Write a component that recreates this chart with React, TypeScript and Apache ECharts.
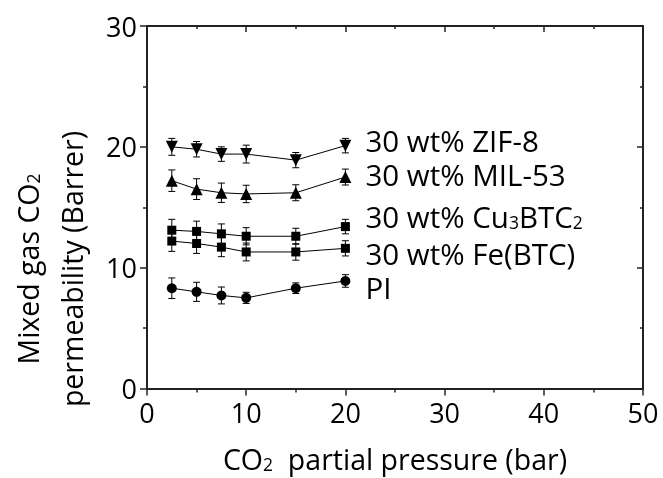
import React, { useEffect, useRef } from 'react';
import * as echarts from 'echarts';

const pressures = [2.5, 5, 7.5, 10, 15, 20];
const zif8 = [20.0, 19.8, 19.4, 19.4, 18.9, 20.1];
const zif8Err = [0.7, 0.64, 0.6, 0.74, 0.63, 0.6];
const mil53 = [17.2, 16.5, 16.2, 16.1, 16.2, 17.5];
const mil53Err = [0.89, 0.86, 0.8, 0.72, 0.66, 0.66];
const cuBtc = [13.1, 13.0, 12.8, 12.6, 12.6, 13.4];
const cuBtcErr = [0.9, 0.85, 0.82, 0.71, 0.66, 0.6];
const feBtc = [12.2, 12.0, 11.7, 11.3, 11.3, 11.6];
const feBtcErr = [0.85, 0.82, 0.79, 0.74, 0.68, 0.63];
const pi = [8.3, 8.0, 7.7, 7.5, 8.3, 8.9];
const piErr = [0.85, 0.79, 0.7, 0.46, 0.44, 0.52];

const labels = [
  '30 wt% ZIF-8',
  '30 wt% MIL-53',
  '30 wt% Cu{sub|3}BTC{sub|2}',
  '30 wt% Fe(BTC)',
  'PI',
];

const FONT = '"Open Sans", sans-serif';
const FS_TICK = 27;
const FS_TITLE = 28.5;
const FS_LABEL = 29.5;

export default function App() {
  const ref = useRef<HTMLDivElement>(null);
  useEffect(() => {
    if (!ref.current) return;
    const chart = echarts.init(ref.current, null, { renderer: 'svg' });

    const groups = [
      { name: labels[0], y: zif8, e: zif8Err, symbol: 'triangle', size: 12, rot: 180, dy: -5 },
      { name: labels[1], y: mil53, e: mil53Err, symbol: 'triangle', size: 12, rot: 0, dy: -3 },
      { name: labels[2], y: cuBtc, e: cuBtcErr, symbol: 'rect', size: 9, rot: 0, dy: -10 },
      { name: labels[3], y: feBtc, e: feBtcErr, symbol: 'rect', size: 9, rot: 0, dy: 5 },
      { name: labels[4], y: pi, e: piErr, symbol: 'circle', size: 10, rot: 0, dy: 7 },
    ];

    const subStyle = { fontFamily: FONT, fontSize: 17.5, lineHeight: 17, verticalAlign: 'bottom', color: '#000' };

    const series: any[] = [];
    groups.forEach((g, gi) => {
      series.push({
        type: 'custom',
        name: 'err' + gi,
        xAxisIndex: 0,
        yAxisIndex: 0,
        silent: true,
        z: 2,
        data: pressures.map((p, i) => [p, g.y[i], g.e[i]]),
        renderItem: (params: any, api: any) => {
          const x = api.value(0);
          const y = api.value(1);
          const e = api.value(2);
          const top = api.coord([x, y + e]);
          const bot = api.coord([x, y - e]);
          const w = 3.5;
          const st = { stroke: '#000', lineWidth: 1 };
          return {
            type: 'group',
            children: [
              { type: 'line', shape: { x1: top[0], y1: top[1], x2: bot[0], y2: bot[1] }, style: st },
              { type: 'line', shape: { x1: top[0] - w, y1: top[1], x2: top[0] + w, y2: top[1] }, style: st },
              { type: 'line', shape: { x1: bot[0] - w, y1: bot[1], x2: bot[0] + w, y2: bot[1] }, style: st },
            ],
          };
        },
      });
      series.push({
        type: 'line',
        name: g.name,
        xAxisIndex: 0,
        yAxisIndex: 0,
        z: 3,
        data: pressures.map((p, i) => [p, g.y[i]]),
        symbol: g.symbol,
        symbolSize: g.size,
        symbolRotate: g.rot,
        showAllSymbol: true,
        lineStyle: { color: '#000', width: 1 },
        itemStyle: { color: '#000' },
        endLabel: {
          show: true,
          formatter: g.name,
          distance: 20,
          offset: [0, g.dy],
          color: '#000',
          fontFamily: FONT,
          fontSize: FS_LABEL,
          lineHeight: 28,
          rich: { sub: subStyle },
        },
      });
    });

    const axisLine = { show: true, onZero: false, lineStyle: { color: '#222', width: 2 } };

    chart.setOption({
      animation: false,
      grid: { left: 147, right: 20, top: 26, bottom: 87, containLabel: false },
      xAxis: [
        {
          type: 'value',
          position: 'bottom',
          min: 0,
          max: 50,
          interval: 10,
          axisLine,
          axisTick: { show: true, inside: false, length: 7, lineStyle: { color: '#222', width: 1.5 } },
          minorTick: { show: true, splitNumber: 2, length: 4, lineStyle: { color: '#222', width: 1.5 } },
          splitLine: { show: false },
          axisLabel: { color: '#000', fontFamily: FONT, fontSize: FS_TICK, margin: 10 },
          name: 'CO{sub|2}  partial pressure (bar)',
          nameLocation: 'middle',
          nameGap: 56,
          nameTextStyle: {
            color: '#000',
            fontFamily: FONT,
            fontSize: FS_TITLE,
            lineHeight: 28,
            rich: { sub: subStyle },
          },
        },
        {
          type: 'value',
          position: 'top',
          min: 0,
          max: 50,
          interval: 10,
          axisLine,
          axisTick: { show: true, inside: true, length: 6, lineStyle: { color: '#222', width: 1.5 } },
          minorTick: { show: true, splitNumber: 2, length: 3, lineStyle: { color: '#222', width: 1.5 } },
          splitLine: { show: false },
          axisLabel: { show: false },
        },
      ],
      yAxis: [
        {
          type: 'value',
          position: 'left',
          min: 0,
          max: 30,
          interval: 10,
          axisLine,
          axisTick: { show: true, inside: false, length: 7, lineStyle: { color: '#222', width: 1.5 } },
          minorTick: { show: true, splitNumber: 2, length: 4, lineStyle: { color: '#222', width: 1.5 } },
          splitLine: { show: false },
          axisLabel: { color: '#000', fontFamily: FONT, fontSize: FS_TICK, margin: 10 },
        },
        {
          type: 'value',
          position: 'right',
          min: 0,
          max: 30,
          interval: 10,
          axisLine,
          axisTick: { show: true, inside: true, length: 6, lineStyle: { color: '#222', width: 1.5 } },
          minorTick: { show: true, splitNumber: 2, length: 3, lineStyle: { color: '#222', width: 1.5 } },
          splitLine: { show: false },
          axisLabel: { show: false },
        },
      ],
      graphic: [
        {
          type: 'text',
          x: 28,
          y: 269,
          rotation: Math.PI / 2,
          style: {
            text: 'Mixed gas CO{sub|2}',
            fill: '#000',
            fontFamily: FONT,
            fontSize: FS_TITLE,
            lineHeight: 28,
            align: 'center',
            verticalAlign: 'middle',
            rich: { sub: { fontFamily: FONT, fontSize: 17.5, lineHeight: 17, verticalAlign: 'bottom', fill: '#000' } },
          },
        },
        {
          type: 'text',
          x: 72,
          y: 269,
          rotation: Math.PI / 2,
          style: {
            text: 'permeability (Barrer)',
            fill: '#000',
            fontFamily: FONT,
            fontSize: FS_TITLE,
            lineHeight: 28,
            align: 'center',
            verticalAlign: 'middle',
          },
        },
      ],
      series,
    });
    return () => chart.dispose();
  }, []);
  return <div ref={ref} style={{ position: 'fixed', left: 0, top: 0, width: 663, height: 478 }} />;
}
